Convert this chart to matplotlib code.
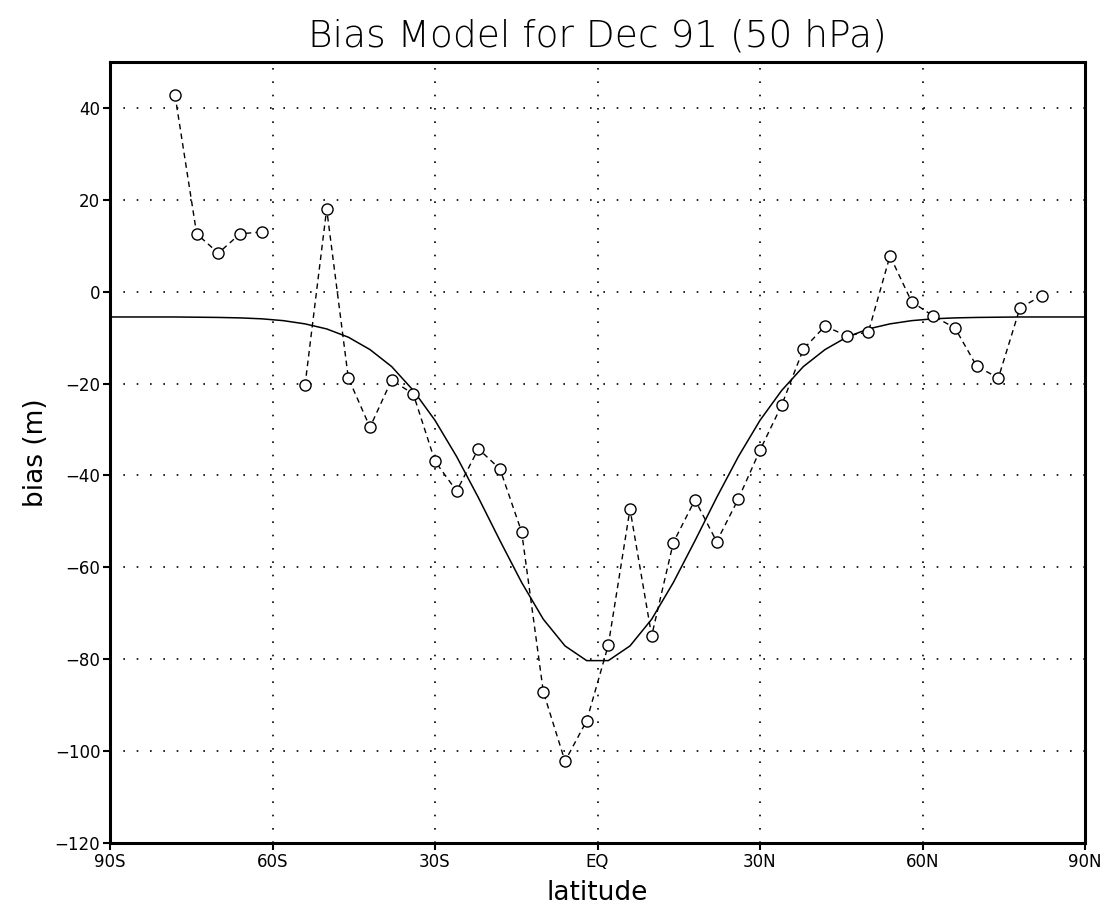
import numpy as np
import matplotlib
matplotlib.use("Agg")
import matplotlib.pyplot as plt

# Observed bias (dashed with circles); NaN = missing
obs_lat = [-78, -74, -70, -66, -62, -58, -54, -50, -46, -42, -38, -34, -30, -26, -22,
           -18, -14, -10, -6, -2, 2, 6, 10, 14, 18, 22, 26, 30, 34, 38, 42, 46, 50,
           54, 58, 62, 66, 70, 74, 78, 82]
obs_bias = [42.8, 12.6, 8.4, 12.6, 13.0, np.nan, -20.4, 18.0, -18.8, -29.5, -19.2, -22.3,
            -36.9, -43.4, -34.2, -38.6, -52.3, -87.1, -102.2, -93.4, -76.9, -47.3, -74.9,
            -54.6, -45.3, -54.4, -45.1, -34.5, -24.7, -12.5, -7.5, -9.6, -8.8, 7.8, -2.2,
            -5.3, -7.9, -16.2, -18.8, -3.5, -0.9]

# Model curve (solid)
mod_lat = [-90, -86, -82, -78, -74, -70, -66, -62, -58, -54, -50, -46, -42, -38, -34,
           -30, -26, -22, -18, -14, -10, -6, -2, 2, 6, 10, 14, 18, 22, 26, 30, 34, 38,
           42, 46, 50, 54, 58, 62, 66, 70, 74, 78, 82, 86, 90]
mod_bias = [-5.5, -5.5, -5.5, -5.5, -5.55, -5.6, -5.7, -5.9, -6.3, -7.0, -8.1, -9.9,
            -12.6, -16.3, -21.5, -28.0, -35.9, -44.8, -54.2, -63.3, -71.3, -77.1, -80.3,
            -80.3, -77.1, -71.3, -63.3, -54.2, -44.8, -35.9, -28.0, -21.5, -16.3, -12.6,
            -9.9, -8.1, -7.0, -6.3, -5.9, -5.7, -5.6, -5.55, -5.5, -5.5, -5.5, -5.5]

xticks = [-90, -60, -30, 0, 30, 60, 90]
xticklabels = ["90S", "60S", "30S", "EQ", "30N", "60N", "90N"]
yticks = [-120, -100, -80, -60, -40, -20, 0, 20, 40]

fig = plt.figure(figsize=(11.02, 9.09), dpi=100)
ax = fig.add_axes([110/1102, 66/909, 975/1102, 781/909])

ax.plot(mod_lat, mod_bias, color="black", lw=1.1, zorder=3)
ax.plot(obs_lat, obs_bias, color="black", lw=1.0, ls=(0, (4, 3)), marker="o",
        markersize=8, markerfacecolor="white", markeredgecolor="black",
        markeredgewidth=1.0, zorder=4)

ax.set_xlim(-90, 90)
ax.set_ylim(-120, 50)
ax.set_xticks(xticks)
ax.set_xticklabels(xticklabels)
ax.set_yticks(yticks)
ax.set_yticklabels([str(v).replace("-", "\u2212") for v in yticks])
ax.grid(True, color="black", ls=(0, (1, 7)), lw=1.2)
for s in ax.spines.values():
    s.set_linewidth(2.2)
ax.tick_params(direction="out", length=5, width=1.5, labelsize=12, pad=2)

ax.set_title("Bias Model for Dec 91 (50 hPa)", fontsize=27, pad=11,
             fontweight="light", color="black")
ax.set_xlabel("latitude", fontsize=19, labelpad=7)
ax.set_ylabel("bias (m)", fontsize=19, labelpad=4)

fig.savefig("out.png", dpi=100)
